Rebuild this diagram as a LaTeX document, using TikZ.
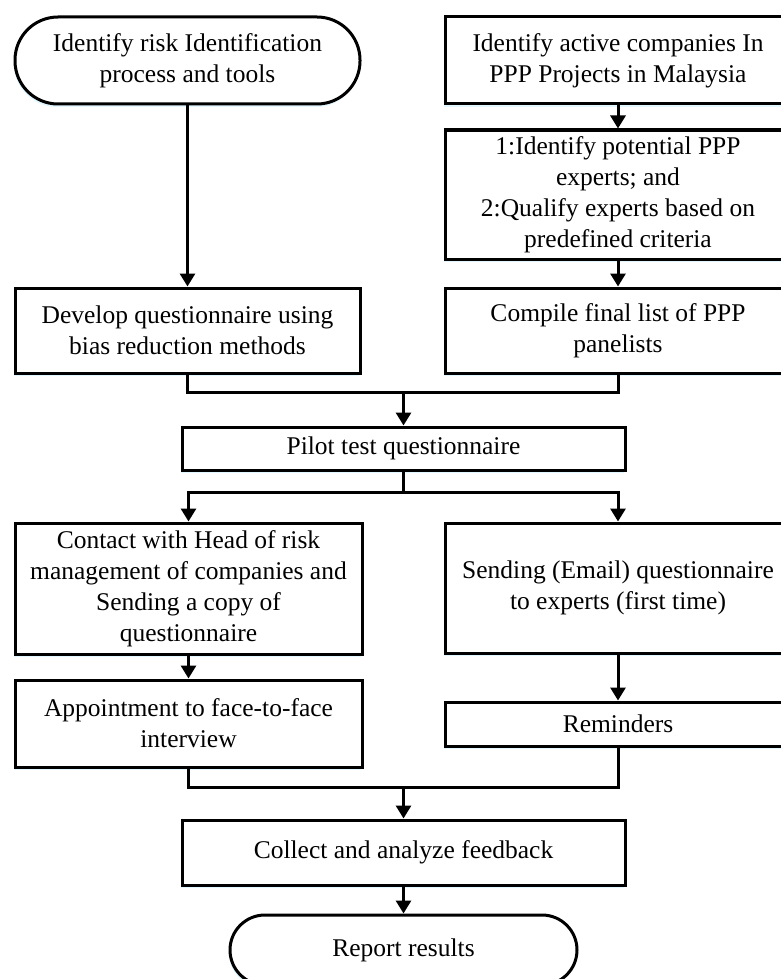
\documentclass[tikz,border=0pt]{standalone}
\usepackage{fontspec}
\setmainfont{Liberation Serif}
\usetikzlibrary{arrows.meta,shadows}
\begin{document}
\begin{tikzpicture}[x=1pt,y=-1pt,
  base/.style={draw=black, line width=3pt, fill=white, align=center, inner sep=0pt,
    font=\fontsize{25.5}{31}\selectfont,
    drop shadow={shadow xshift=-1pt, shadow yshift=-3pt, fill=blue!25!cyan!25, opacity=0.45}},
  procbox/.style={base, rectangle},
  termbox/.style={base, rectangle, rounded corners=#1},
  conn/.style={line width=3pt},
  arr/.style={conn, -{Triangle[length=13pt,width=15pt]}}
]
\clip (0,0) rectangle (781,979);
\fill[white] (0,0) rectangle (781,979);

% left column
\node[termbox=43pt, minimum width=345pt, minimum height=87pt] (t1) at (187.5,60.5)
  {Identify risk Identification\\process and tools};
\node[procbox, minimum width=345pt, minimum height=85pt] (l2) at (187.5,330.5)
  {Develop questionnaire using\\bias reduction methods};

% right column
\node[procbox, minimum width=346pt, minimum height=87pt] (r1) at (618,60.5)
  {Identify active companies In\\PPP Projects in Malaysia};
\node[procbox, minimum width=346pt, minimum height=129pt] (r2) at (618,194.5)
  {1:Identify potential PPP\\experts; and\\2:Qualify experts based on\\predefined criteria};
\node[procbox, minimum width=346pt, minimum height=85pt] (r3) at (618,330.5)
  {Compile final list of PPP\\panelists};

% pilot
\node[procbox, minimum width=443pt, minimum height=43pt] (pilot) at (403.5,448.5)
  {Pilot test questionnaire};

% lower left
\node[procbox, minimum width=347pt, minimum height=131pt] (l3) at (188.5,588.5)
  {Contact with Head of risk\\management of companies and\\Sending a copy of\\questionnaire};
\node[procbox, minimum width=347pt, minimum height=87pt] (l4) at (188.5,723.5)
  {Appointment to face-to-face\\interview};

% lower right
\node[procbox, minimum width=346pt, minimum height=130pt] (r4) at (618,588)
  {Sending (Email) questionnaire\\to experts (first time)};
\node[procbox, minimum width=346pt, minimum height=44pt] (r5) at (618,724)
  {Reminders};

% bottom
\node[procbox, minimum width=443pt, minimum height=65pt] (collect) at (403.5,852.5)
  {Collect and analyze feedback};
\node[termbox=35pt, minimum width=347pt, minimum height=70pt] (report) at (403.5,950)
  {Report results};

% junction points
\coordinate (m1) at (403.5,392);
\coordinate (m2) at (403.5,492);
\coordinate (m3) at (403.5,787);

% connectors
\draw[arr] (t1) -- (l2);
\draw[arr] (r1) -- (r2);
\draw[arr] (r2) -- (r3);
\draw[conn] (l2.south) |- (m1) -| (r3.south);
\draw[arr] (m1) -- (pilot.north);
\draw[conn] (pilot.south) -- (m2);
\draw[arr] (m2) -| (l3.north);
\draw[arr] (m2) -| (r4.north);
\draw[arr] (l3) -- (l4);
\draw[arr] (r4) -- (r5);
\draw[conn] (l4.south) |- (m3) -| (r5.south);
\draw[arr] (m3) -- (collect.north);
\draw[arr] (collect) -- (report);
\end{tikzpicture}
\end{document}
